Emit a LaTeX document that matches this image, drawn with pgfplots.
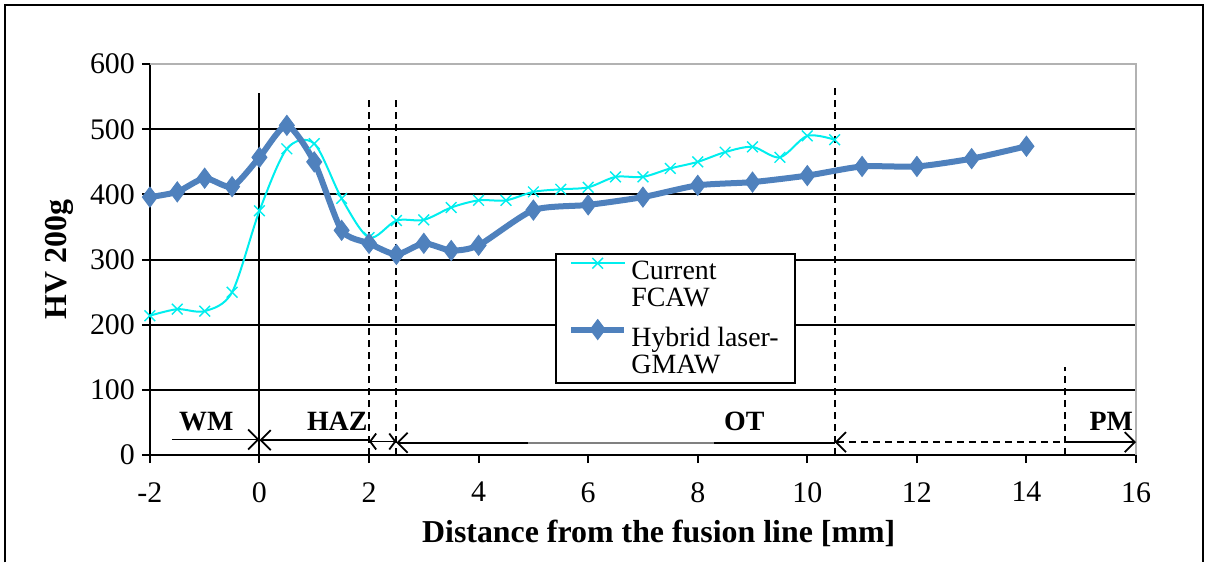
\documentclass[border=0pt]{standalone}
\usepackage{pgfplots}
\pgfplotsset{compat=1.18}
\usepackage{fontspec}
\setmainfont{Liberation Serif}
\usetikzlibrary{arrows.meta}

\definecolor{fcaw}{RGB}{0,238,238}
\definecolor{hybrid}{RGB}{79,129,189}

\begin{document}
\begin{tikzpicture}[barb/.style={-{Straight Barb[length=5bp,width=10bp]}}]
\begin{axis}[
  scale only axis,
  width=493bp, height=195.5bp,
  xmin=-2, xmax=16, ymin=0, ymax=600,
  xtick={-2,0,...,16}, ytick={0,100,...,600},
  axis x line*=bottom, axis y line*=left,
  axis line style={black, line width=1pt},
  tick align=outside, major tick length=4bp,
  tick style={black, line width=1pt},
  ymajorgrids, grid style={black, line width=1pt},
  clip=false,
  tick label style={font=\fontsize{15}{16}\selectfont},
  xticklabel style={yshift=-6bp},
  /pgf/number format/assume math mode=true,
  xlabel={Distance from the fusion line [mm]},
  ylabel={HV 200g},
  every axis x label/.style={at={(rel axis cs:0.516,-0.2)}, anchor=center, font=\bfseries\fontsize{16}{18}\selectfont},
  every axis y label/.style={at={(rel axis cs:-0.0913,0.5)}, anchor=center, rotate=90, font=\bfseries\fontsize{16}{18}\selectfont},
  legend style={at={(rel axis cs:0.411,0.517)}, anchor=north west, draw=black, line width=0.9pt,
    font=\fontsize{14}{13.5}\selectfont, fill=white, inner xsep=6bp, inner ysep=1.5bp, row sep=3bp},
  legend cell align=left,
  legend image code/.code={\draw[yshift=11bp,mark repeat=2,mark phase=2,#1] plot coordinates {(0cm,0cm) (0.47cm,0cm) (0.94cm,0cm)};},
]
% frame round the chart
\path (rel axis cs:-0.152,-0.274) rectangle (rel axis cs:1.073,1.164);
\draw[black, line width=0.8pt] (rel axis cs:-0.147,-0.274) -- (rel axis cs:-0.147,1.151)
  -- (rel axis cs:1.068,1.151) -- (rel axis cs:1.068,-0.274);
% gray top and right edges
\draw[gray!60, line width=1.1pt] (rel axis cs:0,1) -- (rel axis cs:1,1) -- (rel axis cs:1,0);

% zone boundaries
\draw[line width=1pt] (axis cs:0,0) -- (axis cs:0,555);
\draw[line width=1pt, dash pattern=on 3.5bp off 2.5bp] (axis cs:2,0) -- (axis cs:2,549);
\draw[line width=1pt, dash pattern=on 3.5bp off 2.5bp] (axis cs:2.5,0) -- (axis cs:2.5,549);
\draw[line width=1pt, dash pattern=on 3.5bp off 2.5bp] (axis cs:10.5,0) -- (axis cs:10.5,563);
\draw[line width=1pt, dash pattern=on 3.5bp off 2.5bp] (axis cs:14.7,0) -- (axis cs:14.7,135);

% zone arrows
\draw[barb, line width=0.9pt] (axis cs:-1.6,24) -- (axis cs:0,24);
\draw[barb, {Straight Barb[length=5bp,width=10bp]}-, line width=0.9pt] (axis cs:0,23) -- (axis cs:2,23);
\draw[{Straight Barb[length=3bp,width=8bp]}-{Straight Barb[length=3bp,width=8bp]}, line width=0.9pt] (axis cs:2,21) -- (axis cs:2.5,21);
\draw[barb, {Straight Barb[length=5bp,width=10bp]}-, line width=0.9pt] (axis cs:2.5,19) -- (axis cs:10.5,19);
\draw[gray, line width=1.1pt] (axis cs:4.9,19) -- (axis cs:8.3,19);
\draw[barb, {Straight Barb[length=5bp,width=10bp]}-, line width=0.9pt, dash pattern=on 3.5bp off 2.5bp] (axis cs:10.5,20) -- (axis cs:14.7,20);
\draw[barb, line width=0.9pt] (axis cs:14.7,20) -- (axis cs:16,20);

\node[font=\bfseries\fontsize{14}{15}\selectfont] at (axis cs:-0.97,52) {WM};
\node[font=\bfseries\fontsize{14}{15}\selectfont] at (axis cs:1.42,52) {HAZ};
\node[font=\bfseries\fontsize{14}{15}\selectfont] at (axis cs:8.85,52) {OT};
\node[font=\bfseries\fontsize{14}{15}\selectfont] at (axis cs:15.55,52) {PM};

\addplot[color=fcaw, line width=1bp, smooth, mark=x, mark size=3.8pt, mark options={line width=0.7pt}] coordinates {
  (-2,214) (-1.5,224) (-1,221) (-0.5,250) (0,375) (0.5,470) (1,478) (1.5,394)
  (2,334) (2.5,360) (3,361) (3.5,380) (4,391) (4.5,391) (5,404) (5.5,408)
  (6,411) (6.5,427) (7,427) (7.5,440) (8,450) (8.5,465) (9,473) (9.5,457)
  (10,490) (10.5,484)
};
\addlegendentry{\begin{tabular}[b]{@{}l@{}}Current\\FCAW\end{tabular}}

\addplot[color=hybrid, line width=3bp, smooth, tension=0.4, mark=diamond*, mark size=5pt, mark options={line width=0.5pt}] coordinates {
  (-2,396) (-1.5,404) (-1,425) (-0.5,412) (0,457) (0.5,506) (1,450) (1.5,345)
  (2,325) (2.5,308) (3,325) (3.5,314) (4,322) (5,376) (6,384) (7,396)
  (8,414) (9,419) (10,429) (11,443) (12,443) (13,455) (14,474)
};
\addlegendentry{\begin{tabular}[b]{@{}l@{}}Hybrid laser-\\GMAW\end{tabular}}
\end{axis}
\end{tikzpicture}
\end{document}
